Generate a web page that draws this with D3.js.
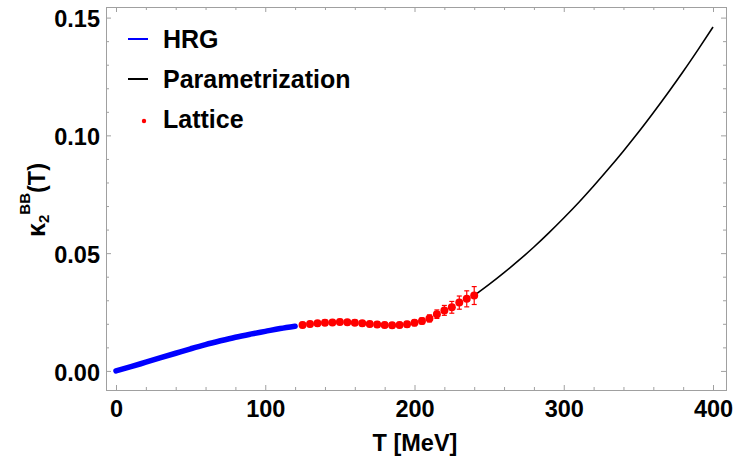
<!DOCTYPE html>
<html>
<head>
<meta charset="utf-8">
<script src="https://cdn.jsdelivr.net/npm/d3@7"></script>
<style>
  html, body { margin: 0; padding: 0; background: #fff; }
  svg { display: block; font-family: "Liberation Sans", Arial, sans-serif; font-weight: bold; }
</style>
</head>
<body>
<svg id="chart" width="734" height="458"></svg>
<script>
// Hadron resonance gas curve (T in MeV)
const hrgT = [0, 10, 20, 30, 40, 50, 60, 70, 80, 90, 100, 110, 120];
const hrgK = [0.0000, 0.0018, 0.0037, 0.0056, 0.0075, 0.0094, 0.0112, 0.0128, 0.0143, 0.0156, 0.0168, 0.0180, 0.0190];

// Lattice points with errors
const latT = [125, 130, 135, 140, 145, 150, 155, 160, 165, 170, 175, 180,
              185, 190, 195, 200, 205, 210, 215, 220, 225, 230, 235, 240];
const latK = [0.0195, 0.0199, 0.0202, 0.0205, 0.0206, 0.0208, 0.0207, 0.0205, 0.0202, 0.0199, 0.0197, 0.0195,
              0.0194, 0.0195, 0.0198, 0.0204, 0.0212, 0.0223, 0.0241, 0.0257, 0.0270, 0.0290, 0.0306, 0.0320];
const latErr = [0.0011, 0.0011, 0.0011, 0.0011, 0.0011, 0.0011, 0.0011, 0.0011, 0.0011, 0.0011, 0.0011, 0.0011,
                0.0011, 0.0011, 0.0012, 0.0012, 0.0013, 0.0015, 0.0018, 0.0021, 0.0025, 0.0028, 0.0034, 0.0038];

// Parametrization above the lattice range
const parT = [240, 250, 260, 270, 280, 290, 300, 310, 320, 330, 340, 350, 360, 370, 380, 390, 400];
const parK = [0.0320, 0.0367, 0.0417, 0.0470, 0.0526, 0.0586, 0.0649, 0.0715, 0.0785, 0.0858, 0.0934,
              0.1013, 0.1096, 0.1182, 0.1271, 0.1364, 0.1460];

const xTicks = [0, 100, 200, 300, 400];
const yTicks = [0, 0.05, 0.10, 0.15];
const xMinor = d3.range(0, 401, 20).filter(v => v % 100 !== 0);
const yMinor = [0.01, 0.02, 0.03, 0.04, 0.06, 0.07, 0.08, 0.09, 0.11, 0.12, 0.13, 0.14];

const legendItems = [
  { label: "HRG", type: "line", color: "#0000ff" },
  { label: "Parametrization", type: "line", color: "#000000" },
  { label: "Lattice", type: "dot", color: "#ff0000" }
];

const frame = { left: 106, right: 726, top: 7, bottom: 390 };
const svg = d3.select("#chart");

const x = d3.scaleLinear().domain([-6.7, 408.7]).range([frame.left, frame.right]);
const y = d3.scaleLinear().domain([-0.0081, 0.1545]).range([frame.bottom, frame.top]);

const frameColor = "#a0a0a0";
const fontSize = 23.5;

// axes with inward ticks on all four sides
function styleAxis(g) {
  g.select(".domain").remove();
  g.selectAll(".tick line").attr("stroke", frameColor).attr("stroke-width", 1);
  g.selectAll("text").attr("fill", "#000").attr("font-size", fontSize)
    .attr("font-family", "'Liberation Sans', Arial, sans-serif").attr("font-weight", "bold");
}

svg.append("g").attr("transform", `translate(0,${frame.bottom})`)
  .call(d3.axisBottom(x).tickValues(xTicks).tickSize(-5).tickPadding(10).tickFormat(d3.format("d")))
  .call(styleAxis);
svg.append("g").attr("transform", `translate(0,${frame.bottom})`)
  .call(d3.axisBottom(x).tickValues(xMinor).tickSize(-3).tickFormat(""))
  .call(styleAxis);
svg.append("g").attr("transform", `translate(0,${frame.top})`)
  .call(d3.axisTop(x).tickValues(xTicks).tickSize(-5).tickFormat(""))
  .call(styleAxis);
svg.append("g").attr("transform", `translate(0,${frame.top})`)
  .call(d3.axisTop(x).tickValues(xMinor).tickSize(-3).tickFormat(""))
  .call(styleAxis);

svg.append("g").attr("transform", `translate(${frame.left},0)`)
  .call(d3.axisLeft(y).tickValues(yTicks).tickSize(-5).tickPadding(6).tickFormat(d3.format(".2f")))
  .call(styleAxis)
  .call(g => g.selectAll("text").attr("dy", "0.39em"));
svg.append("g").attr("transform", `translate(${frame.left},0)`)
  .call(d3.axisLeft(y).tickValues(yMinor).tickSize(-3).tickFormat(""))
  .call(styleAxis);
svg.append("g").attr("transform", `translate(${frame.right},0)`)
  .call(d3.axisRight(y).tickValues(yTicks).tickSize(-5).tickFormat(""))
  .call(styleAxis);
svg.append("g").attr("transform", `translate(${frame.right},0)`)
  .call(d3.axisRight(y).tickValues(yMinor).tickSize(-3).tickFormat(""))
  .call(styleAxis);

// frame
svg.append("rect")
  .attr("x", frame.left + 0.5).attr("y", frame.top + 0.5)
  .attr("width", frame.right - frame.left).attr("height", frame.bottom - frame.top)
  .attr("fill", "none").attr("stroke", frameColor).attr("stroke-width", 1);

// curves
const line = d3.line().x(d => x(d[0])).y(d => y(d[1])).curve(d3.curveMonotoneX);

svg.append("path")
  .datum(parT.map((t, i) => [t, parK[i]]))
  .attr("d", line).attr("fill", "none").attr("stroke", "#000").attr("stroke-width", 1.6);

svg.append("path")
  .datum(hrgT.map((t, i) => [t, hrgK[i]]))
  .attr("d", line).attr("fill", "none").attr("stroke", "#0000ff").attr("stroke-width", 5.5)
  .attr("stroke-linecap", "round");

// lattice error bars and points
const lat = latT.map((t, i) => ({ t, k: latK[i], e: latErr[i] }));
const eb = svg.append("g").attr("stroke", "#ff0000").attr("stroke-width", 1.2);
eb.selectAll("line.bar").data(lat).join("line").attr("class", "bar")
  .attr("x1", d => x(d.t)).attr("x2", d => x(d.t))
  .attr("y1", d => y(d.k - d.e)).attr("y2", d => y(d.k + d.e));
eb.selectAll("line.capT").data(lat).join("line").attr("class", "capT")
  .attr("x1", d => x(d.t) - 2.5).attr("x2", d => x(d.t) + 2.5)
  .attr("y1", d => y(d.k + d.e)).attr("y2", d => y(d.k + d.e));
eb.selectAll("line.capB").data(lat).join("line").attr("class", "capB")
  .attr("x1", d => x(d.t) - 2.5).attr("x2", d => x(d.t) + 2.5)
  .attr("y1", d => y(d.k - d.e)).attr("y2", d => y(d.k - d.e));
svg.append("g").selectAll("circle").data(lat).join("circle")
  .attr("cx", d => x(d.t)).attr("cy", d => y(d.k)).attr("r", 4).attr("fill", "#ff0000");

// legend
const lg = svg.append("g");
legendItems.forEach((it, i) => {
  const cy = 39 + i * 40;
  if (it.type === "line") {
    lg.append("line").attr("x1", 128).attr("x2", 148).attr("y1", cy).attr("y2", cy)
      .attr("stroke", it.color).attr("stroke-width", 2);
  } else {
    lg.append("circle").attr("cx", 144).attr("cy", cy + 2).attr("r", 2.2).attr("fill", it.color);
  }
  lg.append("text").attr("x", 163).attr("y", cy + 9).attr("font-size", 25)
    .attr("fill", "#000").text(it.label);
});

// axis titles
svg.append("text").attr("x", 415).attr("y", 451).attr("text-anchor", "middle")
  .attr("font-size", fontSize).attr("fill", "#000").text("T [MeV]");

const yl = svg.append("text").attr("transform", "translate(45,200) rotate(-90)")
  .attr("text-anchor", "middle").attr("font-size", fontSize).attr("fill", "#000");
yl.append("tspan").attr("font-size", 25).text("κ");
yl.append("tspan").attr("font-size", 15).attr("dy", 4).text("2");
yl.append("tspan").attr("font-size", 15).attr("dy", -19).text("BB");
yl.append("tspan").attr("dy", 15).text("(T)");
</script>
</body>
</html>
